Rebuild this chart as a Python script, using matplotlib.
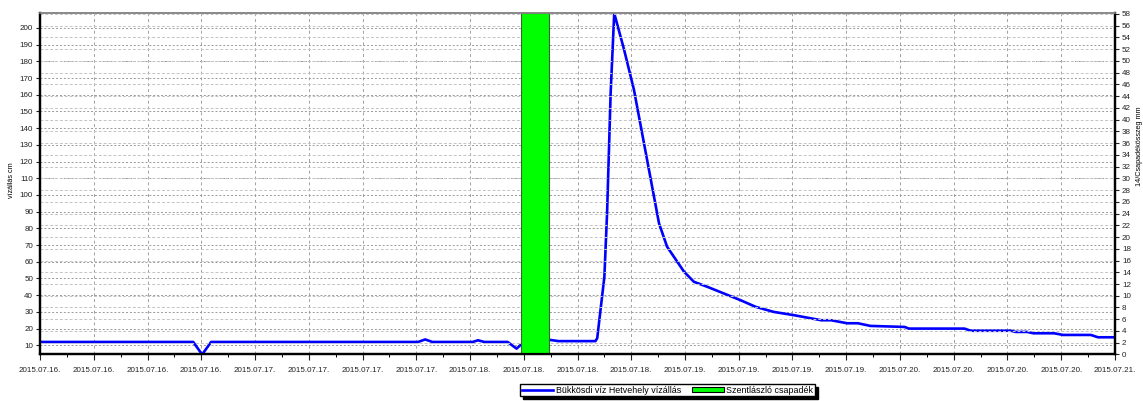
import matplotlib.pyplot as plt
from matplotlib.ticker import MultipleLocator
from matplotlib.lines import Line2D
from matplotlib.patches import Patch

plt.rcParams['font.family'] = ['Liberation Sans', 'DejaVu Sans']

# idő: órák 2015.07.16. 00:00 óta, vízállás cm-ben
hours = [0, 17.1, 18.1, 19.1, 42.2, 43.0, 43.8, 48.3, 48.9, 49.6, 52.2, 53.2, 53.6,
         55.0, 56.7, 57.9, 62.0, 62.2, 63.0, 63.3, 63.7, 64.1, 65.2, 66.3, 69.1,
         70.0, 71.9, 73.0, 74.5, 78.2, 79.9, 81.9, 84.2, 87.2, 88.3, 90.1, 91.3,
         92.7, 96.5, 97.0, 103.2, 103.9, 108.4, 108.9, 110.2, 110.9, 113.2, 114.2,
         117.3, 118.1, 120.1]
level_cm = [12, 12, 4.5, 12, 12, 13.5, 12, 12, 13, 12, 12, 8, 10,
            12, 13.4, 12.5, 12.5, 14.2, 51, 89, 161, 208.8, 187, 163, 83,
            69, 54, 48, 45, 37, 33, 30, 28, 25, 25, 23.2, 23.2,
            21.6, 21, 20, 20, 18.7, 18.7, 18, 18, 17.2, 17.2, 16.2,
            16.2, 14.8, 14.8]

# csapadék: 3 órás oszlop
rain_start_h = [53.7]
rain_width_h = [3.1]
rain_mm = [58.1]

tick_hours = list(range(0, 121, 6))
tick_labels = (['2015.07.16.'] * 4 + ['2015.07.17.'] * 4 + ['2015.07.18.'] * 4 +
               ['2015.07.19.'] * 4 + ['2015.07.20.'] * 4 + ['2015.07.21.'])

fig = plt.figure(figsize=(11.43, 4.01), dpi=100)
ax = fig.add_axes([0.035, 0.116, 0.9405, 0.851])
ax2 = ax.twinx()

# vízállás vonal
ax.plot(hours, level_cm, color='#0000ff', linewidth=1.9, zorder=3)
ax.set_xlim(0, 120)
ax.set_ylim(4.5, 208.8)
ax.set_xticks(tick_hours)
ax.set_xticklabels(tick_labels)
ax.xaxis.set_minor_locator(MultipleLocator(3))
ax.set_yticks(range(10, 201, 10))
ax.grid(True, axis='x', color='#a0a0a0', linestyle=(0, (3, 3)), linewidth=0.7)
ax.grid(True, axis='y', color='#9a9a9a', linestyle=(0, (2, 2)), linewidth=0.7)
ax.set_ylabel('vízállás cm', fontsize=5.2)
ax.yaxis.set_label_coords(-0.023, 0.51)

# csapadék oszlop
ax2.bar(rain_start_h, rain_mm, width=rain_width_h, align='edge',
        color='#00ff00', edgecolor='#336633', linewidth=0.8, zorder=2)
ax2.set_ylim(0, 58.1)
ax2.set_yticks(range(0, 59, 2))
ax2.grid(True, axis='y', color='#c4c4c4', linestyle=(0, (3, 2)), linewidth=0.7)
ax2.set_ylabel('14/Csapadékösszeg mm', fontsize=5.2)
ax2.yaxis.set_label_coords(1.0195, 0.61)

for a in (ax, ax2):
    a.tick_params(labelsize=5.8, colors='#222222', length=3, width=0.8, pad=2)
    a.tick_params(which='minor', length=2, width=0.7)
    for side in ('left', 'right', 'bottom'):
        a.spines[side].set_linewidth(1.6)
        a.spines[side].set_color('black')
    a.spines['top'].set_color('#888888')
    a.spines['top'].set_linewidth(1.2)
ax.tick_params(axis='x', length=4, pad=5)

handles = [Line2D([0], [0], color='#0000ff', linewidth=1.9),
           Patch(facecolor='#00ff00', edgecolor='black', linewidth=0.8)]
labels = ['Bükkösdi víz Hetvehely vízállás', 'Szentlászló csapadék']
fig.legend(handles, labels, loc='center', bbox_to_anchor=(0.584, 0.027), ncol=2,
           fontsize=6.4, frameon=True, fancybox=False,
           shadow={'color': 'black', 'alpha': 1, 'ox': 2, 'oy': -2},
           edgecolor='black', framealpha=1, borderpad=0.2, handlelength=3.5,
           handleheight=0.5, columnspacing=1.3, handletextpad=0.3)

fig.savefig('out.png', dpi=100)
